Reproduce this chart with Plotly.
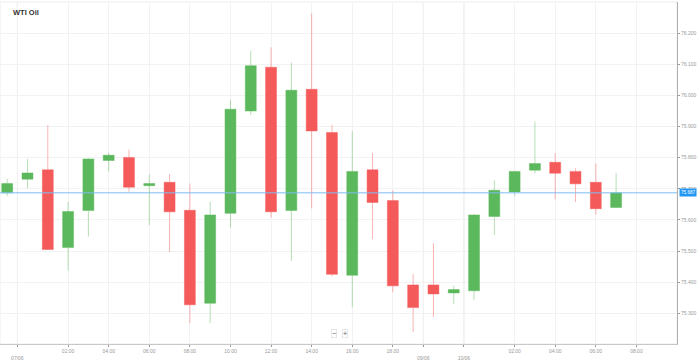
import plotly.graph_objects as go
from datetime import datetime, timedelta

title = "WTI Oil"

times = (["2018-06-06 23:00"]
         + [f"2018-06-07 {h:02d}:00" for h in range(0, 20)]
         + ["2018-06-09 22:00", "2018-06-09 23:00"]
         + [f"2018-06-10 {h:02d}:00" for h in range(0, 8)])

opens = [75.687, 75.731, 75.761, 75.511, 75.630, 75.791, 75.801, 75.710, 75.721, 75.631,
         75.332, 75.621, 75.950, 76.091, 75.630, 76.020, 75.881, 75.422, 75.761, 75.662,
         75.391, 75.391, 75.365, 75.372, 75.611, 75.690, 75.760, 75.785, 75.756, 75.721, 75.640]
highs = [75.732, 75.796, 75.905, 75.658, 75.798, 75.816, 75.826, 75.747, 75.748, 75.717,
         75.658, 75.986, 76.144, 76.155, 76.106, 76.264, 75.905, 75.886, 75.815, 75.695,
         75.426, 75.525, 75.388, 75.618, 75.727, 75.758, 75.916, 75.815, 75.766, 75.782, 75.751]
lows = [75.677, 75.702, 75.503, 75.437, 75.546, 75.756, 75.691, 75.583, 75.496, 75.268,
        75.268, 75.576, 75.937, 75.607, 75.468, 75.637, 75.418, 75.319, 75.538, 75.367,
        75.239, 75.288, 75.329, 75.343, 75.552, 75.676, 75.750, 75.666, 75.657, 75.617, 75.637]
closes = [75.717, 75.751, 75.505, 75.627, 75.796, 75.808, 75.705, 75.717, 75.626, 75.327,
          75.616, 75.956, 76.096, 75.626, 76.017, 75.886, 75.425, 75.756, 75.656, 75.388,
          75.318, 75.362, 75.376, 75.616, 75.695, 75.756, 75.781, 75.750, 75.716, 75.636, 75.687]

y_ticks = [75.3, 75.4, 75.5, 75.6, 75.7, 75.8, 75.9, 76.0, 76.1, 76.2]

GREEN = "#5cb85c"
RED = "#f55a5a"

dts = [datetime.strptime(t, "%Y-%m-%d %H:%M") for t in times]
xs = list(range(len(dts)))

# date boundary ticks (between candles)
date_ticks = []
for i in range(1, len(dts)):
    if dts[i].date() != dts[i - 1].date():
        date_ticks.append((i - 0.5, dts[i].strftime("%d/%m")))

# hour ticks (extend two hours beyond the data)
all_hours = list(zip(xs, dts)) + [(len(dts) - 1 + k, dts[-1] + timedelta(hours=k)) for k in (1, 2)]
hour_ticks = []
for i, d in all_hours:
    if d.hour % 2 == 0 and d.hour != 0 and all(abs(i - p) > 1 for p, _ in date_ticks):
        hour_ticks.append((i, d.strftime("%H:%M")))

tickvals = [p for p, _ in hour_ticks] + [p for p, _ in date_ticks]
ticktext = [t for _, t in hour_ticks] + ["<br>" + t for _, t in date_ticks]

fig = go.Figure()
fig.add_trace(go.Candlestick(
    x=xs, open=opens, high=highs, low=lows, close=closes,
    increasing=dict(fillcolor=GREEN, line=dict(color="rgba(92,184,92,0.45)", width=1)),
    decreasing=dict(fillcolor=RED, line=dict(color="rgba(245,90,90,0.45)", width=1)),
    whiskerwidth=0, showlegend=False, hoverinfo="skip",
))

shapes = []
for p, _ in date_ticks:
    shapes.append(dict(type="line", xref="x", yref="paper", x0=p, x1=p, y0=0, y1=1,
                       line=dict(color="#e2e2e2", width=1), layer="below"))
shapes.append(dict(type="line", xref="paper", yref="y", x0=0, x1=1, y0=closes[-1], y1=closes[-1],
                   line=dict(color="#7dbdf2", width=1)))
shapes.append(dict(type="rect", xref="paper", yref="paper", x0=0, x1=1, y0=0, y1=1,
                   line=dict(color="#ececec", width=1), layer="below"))

annotations = [
    dict(text="<b>" + title + "</b>", xref="paper", yref="paper", x=11 / 677, y=0.9687,
         xanchor="left", yanchor="middle", showarrow=False,
         font=dict(size=7.5, color="#333333", family="Liberation Sans, Arial")),
    dict(text=f"{closes[-1]:.3f}", xref="paper", yref="y", x=1.003, y=closes[-1],
         xanchor="left", yanchor="middle", showarrow=False, bgcolor="#2196f3",
         borderpad=1, font=dict(size=4.6, color="white", family="Liberation Sans, Arial")),
    dict(text="−", xref="paper", yref="paper", x=333.5 / 677, y=0.03, xanchor="center",
         yanchor="middle", showarrow=False, bgcolor="white", bordercolor="#e6e6e6",
         borderwidth=1, borderpad=0, font=dict(size=7, color="#555555")),
    dict(text="+", xref="paper", yref="paper", x=345 / 677, y=0.03, xanchor="center",
         yanchor="middle", showarrow=False, bgcolor="white", bordercolor="#e6e6e6",
         borderwidth=1, borderpad=0, font=dict(size=7, color="#555555")),
]

fig.update_layout(
    width=698, height=363,
    margin=dict(l=0, r=21, t=2, b=19),
    paper_bgcolor="white", plot_bgcolor="white",
    font=dict(family="Liberation Sans, Arial", size=5, color="#999999"),
    boxgap=0.23, boxgroupgap=0.3,
    shapes=shapes, annotations=annotations,
    xaxis=dict(range=[-0.355, 33.0], tickvals=tickvals, ticktext=ticktext,
               showgrid=True, gridcolor="#f2f2f2", gridwidth=1,
               showline=True, linecolor="#c8c8c8", linewidth=1,
               ticks="outside", ticklen=2, tickcolor="#999999",
               rangeslider=dict(visible=False), zeroline=False,
               tickfont=dict(size=5, color="#999999")),
    yaxis=dict(side="right", range=[75.201, 76.3006], tickvals=y_ticks, tickformat=".3f",
               showgrid=True, gridcolor="#f2f2f2", gridwidth=1,
               showline=True, linecolor="#b0b0b0", linewidth=1,
               ticks="outside", ticklen=2, tickcolor="#999999", zeroline=False,
               tickfont=dict(size=5, color="#999999")),
)

fig.write_html("out.html", config={"displayModeBar": False},
               post_script="document.body.style.margin='0';document.body.style.overflow='hidden';")
